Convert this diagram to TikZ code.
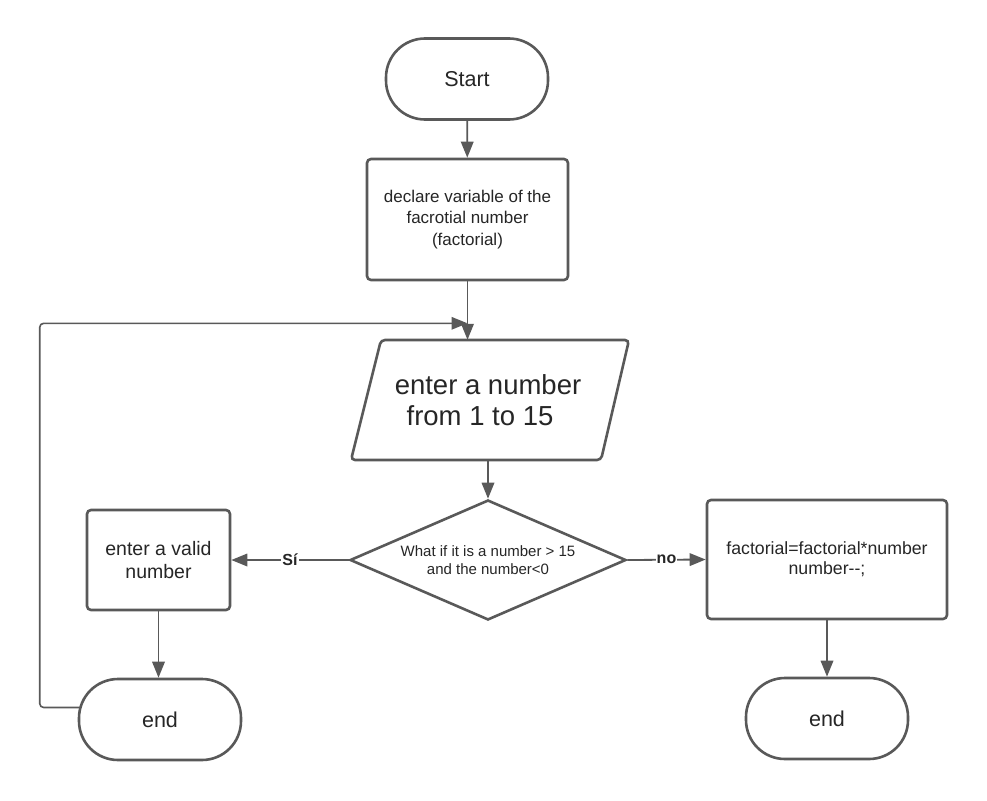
\documentclass[tikz,border=0pt]{standalone}
\usepackage{fontspec}
\setmainfont{Liberation Sans}
\usetikzlibrary{arrows.meta,shapes.geometric}
\definecolor{ln}{HTML}{595959}
\definecolor{tx}{HTML}{262626}
\begin{document}
\begin{tikzpicture}[x=1pt,y=-1pt,
  shp/.style={draw=ln, line width=2.6pt, fill=white, text=tx, align=center, inner sep=0pt},
  term/.style={shp, rounded corners=39pt, minimum width=162pt, minimum height=81pt, font=\fontsize{21.5}{26}\selectfont},
  box/.style={shp, rounded corners=4pt},
  conn/.style={draw=ln, line width=1.8pt, -{Triangle[length=16pt,width=12.5pt]}},
  lbl/.style={fill=white, text=tx, font=\bfseries\fontsize{16}{18}\selectfont, inner sep=1pt}]
\useasboundingbox (0,0) rectangle (987,800);

% nodes
\node[term] (start) at (467,79) {Start};
\node[box, minimum width=201pt, minimum height=121pt, font=\fontsize{17}{21.5}\selectfont] (decl) at (467.5,219.5)
  {declare variable of the\\facrotial number\\(factorial)};
\draw[shp, rounded corners=4pt] (381,340) -- (629,340) -- (601,460) -- (351,460) -- cycle;
\node[minimum width=250pt, minimum height=120pt, inner sep=0pt, align=center, text=tx,
  font=\fontsize{27.5}{31}\selectfont] (inp) at (488,400) {enter a number\\from 1 to 15\hspace*{16pt}};
\node[shp, diamond, aspect=2.3, minimum width=276pt, minimum height=120pt,
  font=\fontsize{15}{18.3}\selectfont] (dia) at (488,560) {What if it is a number > 15\\and the number<0};
\node[box, minimum width=143pt, minimum height=100pt, font=\fontsize{19.5}{23.3}\selectfont] (lrect) at (158.5,560)
  {enter a valid\\number};
\node[box, minimum width=240pt, minimum height=119pt, font=\fontsize{17.7}{20}\selectfont] (rrect) at (827,559.5)
  {factorial=factorial*number\\number-{}-;};
\node[term] (lend) at (160,719.5) {end};
\node[term] (rend) at (827,718.5) {end};

% connectors
\draw[conn] (start) -- (decl);
\draw[conn] (decl.south) -- (decl.south |- inp.north);
\path (decl.south) ++(0,42) coordinate (merge);
\path (lend.west) ++(2,-12) coordinate (lout);
\draw[conn, line width=1.6pt, rounded corners=4pt] (lout) -- ++(-40,0) |- (merge);
\draw[conn] (dia.north |- inp.south) -- (dia.north);
\draw[conn] (dia.west) -- node[lbl]{Sí} (lrect.east);
\draw[conn] (dia.east) -- node[lbl]{no} (rrect.west);
\draw[conn] (lrect.south) -- (lrect.south |- lend.north);
\draw[conn] (rrect.south) -- (rrect.south |- rend.north);
\end{tikzpicture}
\end{document}
